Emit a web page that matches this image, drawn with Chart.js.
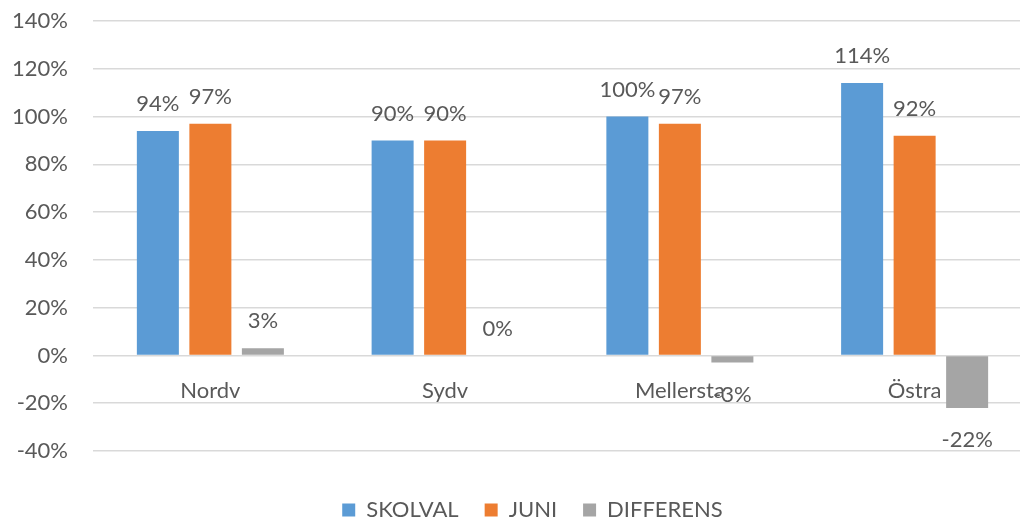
<!DOCTYPE html>
<html>
<head>
<meta charset="utf-8">
<script src="https://cdn.jsdelivr.net/npm/chart.js@4"></script>
<style>
  html, body { margin: 0; padding: 0; background: #ffffff; }
  #wrap { width: 1020px; height: 520px; }
</style>
</head>
<body>
<div id="wrap"><canvas id="BarChart" width="1020" height="520"></canvas></div>
<script>
const categories = ['Nordv', 'Sydv', 'Mellersta', 'Östra'];
const skolval = [94, 90, 100, 114];
const juni = [97, 90, 97, 92];
const differens = [3, 0, -3, -22];

const FONT = 'Lato, "Open Sans", sans-serif';
const TEXT_COLOR = '#595959';
const FONT_SIZE = 22;

// draws the category names just under the zero line, like Excel does
const category_labels = {
    id: 'category_labels',
    afterDatasetsDraw(chart){
        const ctx = chart.ctx;
        const x = chart.scales.x;
        const y0 = chart.scales.y.getPixelForValue(0);
        ctx.save();
        ctx.font = FONT_SIZE + 'px ' + FONT;
        ctx.fillStyle = TEXT_COLOR;
        ctx.textAlign = 'center';
        ctx.textBaseline = 'middle';
        categories.forEach((c, i) => {
            ctx.fillText(c, x.getPixelForValue(i), y0 + 35);
        });
        ctx.restore();
    }
};

// value labels above (or below) every bar
const value_labels = {
    id: 'value_labels',
    afterDatasetsDraw(chart){
        const ctx = chart.ctx;
        ctx.save();
        ctx.font = FONT_SIZE + 'px ' + FONT;
        ctx.fillStyle = TEXT_COLOR;
        ctx.textAlign = 'center';
        ctx.textBaseline = 'middle';
        chart.data.datasets.forEach((ds, d) => {
            chart.getDatasetMeta(d).data.forEach((bar, i) => {
                const v = ds.data[i];
                const y = v >= 0 ? bar.y - 27 : bar.y + 32;
                ctx.fillText(v + '%', bar.x, y);
            });
        });
        ctx.restore();
    }
};

// the original plot area runs on past the right edge of the picture,
// and the legend sits right at the bottom edge
const PLOT_RIGHT = 1032;
const layout_fix = {
    id: 'layout_fix',
    beforeLayout(chart){
        const lg = chart.legend;
        if (lg && !lg._short){
            const fit = lg.fit;
            lg.fit = function(){
                fit.call(this);
                this.height = 30;
            };
            lg._short = true;
        }
    },
    afterLayout(chart){
        const area = chart.chartArea;
        area.right = PLOT_RIGHT;
        area.width = area.right - area.left;
        const x = chart.scales.x;
        x.right = PLOT_RIGHT;
        x.width = x.right - x.left;
        x.configure();

        const lg = chart.legend;
        lg.left = 0;
        lg.right = 1065;
        lg.width = 1065;
        lg.top = 473;
        lg.bottom = 520;
    }
};

const ctx = document.getElementById('BarChart').getContext('2d');
const chart = new Chart(ctx, {
    type: 'bar',
    data: {
        labels: categories,
        datasets: [
            { label: 'SKOLVAL', data: skolval, backgroundColor: '#5B9BD5' },
            { label: 'JUNI', data: juni, backgroundColor: '#ED7D31' },
            { label: 'DIFFERENS', data: differens, backgroundColor: '#A5A5A5' }
        ]
    },
    options: {
        responsive: false,
        animation: false,
        layout: { padding: { top: 21, right: 0, left: 0, bottom: 0 } },
        datasets: {
            bar: { categoryPercentage: 0.671, barPercentage: 0.8 }
        },
        scales: {
            x: {
                grid: { display: false },
                border: { display: false },
                ticks: { display: false },
                afterFit(scale){
                    scale.height = 39;
                    scale.paddingLeft = 0;
                    scale.paddingRight = 0;
                }
            },
            y: {
                min: -40,
                max: 140,
                ticks: {
                    stepSize: 20,
                    padding: 25,
                    color: TEXT_COLOR,
                    font: { family: FONT, size: FONT_SIZE },
                    callback: v => v + '%'
                },
                grid: { color: '#D9D9D9', drawTicks: false, lineWidth: 1.5 },
                border: { display: false },
                afterFit(scale){
                    scale.width = 93;
                    scale.paddingTop = 0;
                    scale.paddingBottom = 0;
                }
            }
        },
        plugins: {
            legend: {
                position: 'bottom',
                labels: {
                    boxWidth: 13,
                    boxHeight: 13,
                    padding: 26,
                    color: TEXT_COLOR,
                    font: { family: FONT, size: FONT_SIZE }
                }
            },
            tooltip: { enabled: false }
        }
    },
    plugins: [category_labels, value_labels, layout_fix]
});
</script>
</body>
</html>
